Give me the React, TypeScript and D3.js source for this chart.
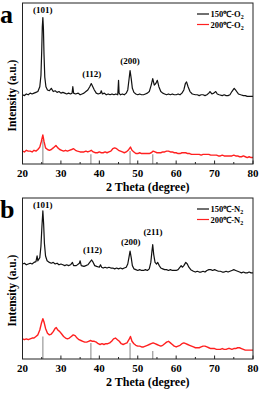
import * as d3 from 'd3';
import React, {useRef, useEffect} from 'react';

// 2 theta / intensity (a.u., 0-100 of panel height)
const blackA: [number, number][] = [
  [20, 43], [20.5, 42.5], [21, 43.5], [21.5, 43], [22, 44], [22.5, 43.5], [23, 44], [23.5, 44.5], [24, 45], [24.5, 48],
  [24.8, 55], [25.0, 70], [25.15, 85], [25.3, 91], [25.45, 84], [25.6, 68], [25.8, 54], [26.1, 48], [26.5, 46], [27, 45.5],
  [27.5, 47], [28, 45], [28.5, 45.5], [29, 44.5], [29.5, 45], [30, 44], [30.5, 44.5], [31, 44], [31.5, 43.5], [32, 44],
  [32.5, 43.5], [32.9, 44], [33.1, 48], [33.3, 44], [33.8, 43.5], [34.5, 44], [35, 43], [35.5, 43.5], [36, 44], [36.5, 45],
  [37, 46], [37.5, 48], [37.9, 50], [38.3, 48], [38.7, 46], [39.2, 44], [39.7, 43.5], [40.3, 44], [40.5, 45.5], [40.8, 43.5],
  [41.3, 44], [41.8, 43], [42.3, 43.5], [42.8, 43], [43.3, 43.5], [43.8, 43], [44.3, 43.5], [44.8, 43], [45.0, 52], [45.15, 44],
  [45.5, 43], [46, 43.5], [46.5, 43], [47, 44], [47.4, 46], [47.7, 52], [48.0, 58], [48.3, 53], [48.6, 47], [49, 44.5],
  [49.5, 43.5], [50, 43], [50.5, 43.5], [51, 43], [51.5, 43], [52, 43.5], [52.5, 44], [53, 45], [53.5, 49], [53.9, 53],
  [54.3, 49], [54.7, 50], [55.1, 52], [55.5, 48], [56, 45], [56.5, 44], [57, 43.5], [57.5, 43], [58, 43.5], [58.5, 43],
  [59, 43.5], [59.5, 43], [60, 43], [60.5, 43.5], [61, 43], [61.5, 44], [62, 46], [62.4, 50], [62.7, 51], [63.1, 48],
  [63.6, 45], [64.2, 43.5], [65, 43], [65.5, 43], [66, 42.5], [66.5, 43], [67, 43], [67.5, 42.5], [68, 43], [68.5, 44],
  [68.8, 45], [69.3, 43.5], [69.8, 44], [70.3, 45], [70.7, 43.5], [71.2, 43], [72, 42.5], [72.5, 43], [73, 42.5], [73.5, 42.5],
  [74, 43], [74.5, 45], [75.1, 47], [75.6, 45.5], [76.2, 43.5], [76.8, 43], [77.5, 42.5], [78, 42.5], [78.5, 42], [79, 42],
  [79.5, 42], [80, 42]
];

const redA: [number, number][] = [
  [20, 8], [20.5, 7.5], [21, 8.5], [21.5, 8], [22, 8], [22.5, 7.5], [23, 8.5], [23.5, 8], [24, 9], [24.5, 10.5],
  [24.9, 14], [25.3, 18], [25.6, 14], [26, 10], [26.5, 9], [27, 8.5], [27.5, 9], [28, 10], [28.7, 11.5], [29.2, 10],
  [29.7, 9], [30.2, 8.5], [30.7, 8], [31.2, 8.5], [31.7, 8], [32.2, 8.5], [32.8, 9], [33.3, 9.5], [33.8, 8.5], [34.3, 8],
  [35, 7.5], [35.5, 7.5], [36, 7.5], [36.5, 8], [37, 7.5], [37.5, 8], [37.9, 8.5], [38.4, 7.5], [39, 7], [39.5, 7],
  [40, 7.5], [40.5, 7], [41, 7], [41.5, 7.5], [42, 7], [42.5, 7.5], [43, 8], [43.5, 9.5], [44, 10], [44.5, 9.5],
  [45, 8.5], [45.5, 8], [46, 7.5], [46.5, 7], [47, 7.5], [47.5, 8.5], [48.1, 10.5], [48.5, 8.5], [49, 7.5], [49.5, 6.5],
  [50, 6.5], [50.5, 7], [51, 6.5], [51.5, 6.5], [52, 6.5], [52.5, 6.5], [53, 6.5], [53.5, 7], [54, 8], [54.5, 7.5],
  [55, 7], [55.5, 7], [56, 7], [56.5, 7.5], [57, 7.5], [57.5, 8], [58, 8], [58.5, 7.5], [59, 7.5], [59.5, 7],
  [60, 7], [60.5, 6.5], [61, 6.5], [61.5, 7], [62, 7], [62.5, 7], [63, 6.5], [63.5, 6.5], [64, 6], [64.5, 6],
  [65, 6], [65.5, 6], [66, 6], [66.5, 5.5], [67, 6], [67.5, 6], [68, 6], [68.5, 6], [69, 5.5], [69.5, 5.5],
  [70, 5.5], [70.5, 5.5], [71, 5], [71.5, 5], [72, 5.5], [72.5, 5], [73, 5], [73.5, 5], [74, 5], [74.5, 5],
  [75, 5.5], [75.5, 5], [76, 5], [76.5, 4.5], [77, 4.5], [77.5, 5], [78, 4.5], [78.5, 4], [79, 4.5], [79.5, 4], [80, 4]
];

const blackB: [number, number][] = [
  [20, 59], [20.5, 59.5], [21, 58.5], [21.5, 59], [22, 59.5], [22.5, 59], [23, 60], [23.5, 60.5], [23.8, 64], [24.0, 61],
  [24.5, 63], [24.8, 70], [25.05, 82], [25.3, 92], [25.5, 84], [25.7, 72], [26, 64], [26.4, 61], [27, 60], [27.5, 59.5],
  [28, 60], [28.5, 59], [29, 59.5], [29.5, 58.5], [30, 59], [30.5, 58.5], [31, 58], [31.5, 58.5], [32, 58], [32.5, 58.5],
  [33, 60], [33.3, 58], [34, 58], [34.8, 59.5], [35, 61], [35.3, 58], [36, 57.5], [36.5, 58], [37, 58.5], [37.5, 60],
  [38, 61.5], [38.4, 60], [38.8, 58], [39.3, 57.5], [40, 57], [40.3, 58.5], [40.6, 57], [41, 56.5], [41.5, 57], [42, 56.5],
  [42.5, 57], [43, 56.5], [43.5, 56.5], [44, 56], [44.5, 56.5], [45, 56], [45.5, 56.5], [46, 56], [46.5, 56.5], [47, 57],
  [47.4, 59], [47.7, 63], [48.0, 67], [48.3, 63], [48.6, 58], [49, 56], [49.5, 55.5], [50, 55], [50.5, 55.5], [51, 55],
  [51.5, 55], [52, 55.5], [52.5, 55], [53, 56], [53.4, 60], [53.7, 67], [53.9, 71], [54.15, 65], [54.5, 60], [54.9, 59],
  [55.2, 60], [55.6, 58], [56, 56.5], [56.5, 56], [57, 55.5], [57.5, 55.5], [58, 55], [58.5, 55.5], [59, 55], [59.5, 55],
  [60, 55], [60.5, 55.5], [61, 57], [61.3, 58], [61.6, 57], [62, 58], [62.5, 60], [62.9, 59], [63.3, 57], [63.8, 55.5],
  [64.5, 54.5], [65, 54], [65.5, 54.5], [66, 54], [66.5, 54], [67, 54.5], [67.5, 54], [68, 55], [68.5, 55.5], [69, 55.5],
  [69.5, 55], [70, 55.5], [70.5, 55], [71, 54.5], [71.5, 54.5], [72, 54], [72.5, 54], [73, 54.5], [73.5, 54], [74, 54.5],
  [74.5, 55], [75, 55.5], [75.5, 55], [76, 54.5], [76.5, 54], [77, 53.5], [77.5, 54], [78, 53.5], [78.5, 53.5], [79, 54],
  [79.5, 53.5], [80, 53.5]
];

const redB: [number, number][] = [
  [20, 12.5], [20.5, 12], [21, 12.5], [21.5, 12], [22, 12.5], [22.5, 13], [23, 13], [23.5, 14], [24, 15], [24.5, 18],
  [24.9, 22], [25.3, 25], [25.6, 23], [26, 19], [26.5, 16], [27, 15], [27.5, 15.5], [28, 17], [28.5, 19], [28.8, 19.5],
  [29.2, 18], [29.7, 17], [30.2, 15.5], [30.7, 14], [31.2, 13], [31.7, 12.5], [32.2, 13], [32.7, 14], [33.2, 15], [33.7, 14.5],
  [34.2, 13], [34.7, 12], [35.2, 11.5], [35.7, 11], [36.2, 10.5], [36.7, 10.5], [37.2, 11], [37.7, 11.5], [38.2, 11], [38.7, 11],
  [39.2, 10.5], [39.7, 9.5], [40.2, 9], [40.7, 9.5], [41.2, 9], [41.7, 9.5], [42.2, 9.5], [42.7, 10], [43.2, 11], [43.7, 12.5],
  [44.2, 13], [44.7, 12], [45.2, 11], [45.7, 9.5], [46.2, 9], [46.7, 9.5], [47.2, 10], [47.7, 12], [48.1, 14], [48.5, 11],
  [49, 9.5], [49.5, 8.5], [50, 8], [50.5, 8], [51, 7.5], [51.5, 7.5], [52, 8], [52.5, 8.5], [53, 9], [53.5, 9.5],
  [54, 10], [54.5, 9.5], [55, 9], [55.5, 8.5], [56, 8], [56.5, 8.5], [57, 9.5], [57.5, 10.5], [58, 11], [58.5, 10],
  [59, 9], [59.5, 8], [60, 7.5], [60.5, 8], [61, 8.5], [61.5, 9.5], [62, 10], [62.5, 9.5], [63, 9], [63.5, 8.5],
  [64, 8], [64.5, 7.5], [65, 7], [65.5, 7], [66, 7], [66.5, 7.5], [67, 8], [67.5, 8], [68, 7.5], [68.5, 7],
  [69, 6.5], [69.5, 6.5], [70, 6.5], [70.5, 6], [71, 6], [71.5, 6], [72, 6.5], [72.5, 6], [73, 6], [73.5, 6.5],
  [74, 6.5], [74.5, 6], [75, 6.5], [75.5, 6.5], [76, 7], [76.5, 7], [77, 6.5], [77.5, 6], [78, 5.5], [78.5, 5.5],
  [79, 5.5], [79.5, 5.5], [80, 5.5]
];

// reference (JCPDS) sticks
const sticksA: [number, number][] = [[25.3, 15], [37.8, 6], [48.0, 8], [53.9, 6]];
const sticksB: [number, number][] = [[25.3, 14], [37.8, 10], [48.0, 10], [53.9, 5]];

const planesA: [string, number, number][] = [["(101)", 25.3, 94], ["(112)", 38.0, 54], ["(200)", 48.0, 62]];
const planesB: [string, number, number][] = [["(101)", 25.3, 94], ["(112)", 38.2, 66], ["(200)", 48.2, 71], ["(211)", 54.0, 77]];

const xTicks = [20, 30, 40, 50, 60, 70, 80];
const xMinor = [25, 35, 45, 55, 65, 75];

const font = "'Liberation Serif', 'Times New Roman', serif";

interface Panel {
  letter: string;
  top: number;
  bottom: number;
  black: [number, number][];
  red: [number, number][];
  sticks: [number, number][];
  planes: [string, number, number][];
  gas: string;
}

const panels: Panel[] = [
  {letter: "a", top: 3, bottom: 164, black: blackA, red: redA, sticks: sticksA, planes: planesA, gas: "O"},
  {letter: "b", top: 198, bottom: 359, black: blackB, red: redB, sticks: sticksB, planes: planesB, gas: "N"},
];

const App = () => {
  const ref = useRef<SVGSVGElement>(null);

  useEffect(() => {
    const svg = d3.select(ref.current);
    svg.selectAll("*").remove();

    const left = 22.5, right = 253;
    const x = d3.scaleLinear().domain([20, 80]).range([left, right]);

    panels.forEach(p => {
      const y = d3.scaleLinear().domain([0, 100]).range([p.bottom, p.top]);
      const g = svg.append("g");

      // sticks
      g.selectAll("line.stick")
      .data(p.sticks)
      .enter()
      .append("line")
      .attr("x1", d => x(d[0])).attr("x2", d => x(d[0]))
      .attr("y1", p.bottom).attr("y2", d => y(d[1]))
      .attr("stroke", "#a0a0a0")
      .attr("stroke-width", 1.3);

      const line = d3.line<[number, number]>()
      .x(d => x(d[0]))
      .y(d => y(d[1]));

      g.append("path").attr("d", line(p.red)).attr("fill", "none")
      .attr("stroke", "#ff2020").attr("stroke-width", 1.4).attr("stroke-linejoin", "round");
      g.append("path").attr("d", line(p.black)).attr("fill", "none")
      .attr("stroke", "#111").attr("stroke-width", 1.2).attr("stroke-linejoin", "round");

      // frame
      g.append("rect")
      .attr("x", left).attr("y", p.top)
      .attr("width", right - left).attr("height", p.bottom - p.top)
      .attr("fill", "none").attr("stroke", "#222").attr("stroke-width", 1);

      // ticks
      g.selectAll("line.major")
      .data(xTicks)
      .enter()
      .append("line")
      .attr("x1", d => x(d)).attr("x2", d => x(d))
      .attr("y1", p.bottom).attr("y2", p.bottom - 3.5)
      .attr("stroke", "#222");
      g.selectAll("line.minor")
      .data(xMinor)
      .enter()
      .append("line")
      .attr("x1", d => x(d)).attr("x2", d => x(d))
      .attr("y1", p.bottom).attr("y2", p.bottom - 2)
      .attr("stroke", "#222");

      g.selectAll("text.tick")
      .data(xTicks)
      .enter()
      .append("text")
      .attr("x", d => x(d))
      .attr("y", p.bottom + 12.5)
      .attr("text-anchor", "middle")
      .attr("font-family", font)
      .attr("font-weight", "bold")
      .attr("font-size", 11)
      .text(d => d);

      g.append("text")
      .attr("x", (left + right) / 2 + 10)
      .attr("y", p.bottom + 27)
      .attr("text-anchor", "middle")
      .attr("font-family", font)
      .attr("font-weight", "bold")
      .attr("font-size", 12)
      .text("2 Theta (degree)");

      g.append("text")
      .attr("transform", `translate(15.5,${(p.top + p.bottom) / 2 + 12}) rotate(-90)`)
      .attr("text-anchor", "middle")
      .attr("font-family", font)
      .attr("font-weight", "bold")
      .attr("font-size", 11.5)
      .text("Intensity (a.u.)");

      g.append("text")
      .attr("x", 0)
      .attr("y", p.top + 20)
      .attr("font-family", font)
      .attr("font-weight", "bold")
      .attr("font-size", 26)
      .text(p.letter);

      // plane labels
      g.selectAll("text.plane")
      .data(p.planes)
      .enter()
      .append("text")
      .attr("x", d => x(d[1]))
      .attr("y", d => y(d[2]))
      .attr("text-anchor", "middle")
      .attr("font-family", font)
      .attr("font-weight", "bold")
      .attr("font-size", 9)
      .text(d => d[0]);

      // legend
      const legend = [["150", "#111"], ["200", "#ff2020"]];
      legend.forEach(([t, c], i) => {
        const ly = p.top + 11 + i * 10.5;
        g.append("line")
        .attr("x1", 197).attr("x2", 209)
        .attr("y1", ly).attr("y2", ly)
        .attr("stroke", c).attr("stroke-width", 1.2);
        const txt = g.append("text")
        .attr("x", 210.5).attr("y", ly + 3)
        .attr("font-family", font)
        .attr("font-weight", "bold")
        .attr("font-size", 8.5);
        txt.append("tspan").text(`${t}℃-${p.gas}`);
        txt.append("tspan").attr("font-size", 6).attr("dy", 2).text("2");
      });
    });
  }, []);

  return (
    <svg ref={ref} width={259} height={394}
         style={{position: "absolute", left: 0, top: 0, background: "#fff"}}>
    </svg>
  );
}

export default App;
